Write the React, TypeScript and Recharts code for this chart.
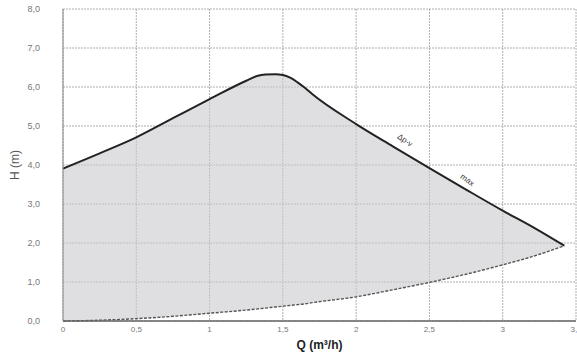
import React from 'react';
import {
  ComposedChart,
  Area,
  Line,
  XAxis,
  YAxis,
  CartesianGrid,
  Label,
  ReferenceDot,
} from 'recharts';

// Flow Q (m³/h)
const flowQ = [0, 0.25, 0.5, 0.75, 1, 1.25, 1.33, 1.38, 1.45, 1.5, 1.55, 1.6, 1.65, 1.7, 2, 2.25, 2.5, 2.75, 3, 3.2, 3.42];
// Max curve (Δp-v max) head H (m)
const headMax = [3.91, 4.3, 4.71, 5.2, 5.69, 6.16, 6.29, 6.32, 6.33, 6.31, 6.24, 6.12, 5.98, 5.82, 5.05, 4.48, 3.92, 3.37, 2.83, 2.42, 1.93];
// Lower (system) curve head H (m)
const headLow = [0, 0.02, 0.06, 0.12, 0.2, 0.28, 0.31, 0.33, 0.36, 0.38, 0.4, 0.42, 0.44, 0.47, 0.62, 0.8, 0.99, 1.2, 1.44, 1.65, 1.93];

const xTicks = [0, 0.5, 1, 1.5, 2, 2.5, 3, 3.5];
const yTicks = [0, 1, 2, 3, 4, 5, 6, 7, 8];

const xLabel = 'Q (m³/h)';
const yLabel = 'H (m)';
const curveLabels = [
  { q: 2.335, h: 4.64, text: 'Δp-v' },
  { q: 2.76, h: 3.62, text: 'max' },
];

const data = flowQ.map((q, i) => ({
  q,
  high: headMax[i],
  low: headLow[i],
  range: [headLow[i], headMax[i]],
}));

const fmtX = (v: number) => String(v).replace('.', ',');
const fmtY = (v: number) => v.toFixed(1).replace('.', ',');

const font = '"Liberation Sans", Arial, sans-serif';

export default function App() {
  return (
    <div style={{ position: 'absolute', left: 0, top: 0, width: 577, height: 352, background: '#fff', fontFamily: font }}>
      <ComposedChart
        width={577}
        height={352}
        data={data}
        margin={{ top: 9, right: 1, left: 0, bottom: 0 }}
      >
        <CartesianGrid stroke="#9a9a9a" strokeDasharray="2 1" strokeWidth={0.8} />
        <XAxis
          type="number"
          dataKey="q"
          domain={[0, 3.5]}
          ticks={xTicks}
          tickFormatter={fmtX}
          allowDataOverflow
          height={31}
          tickLine={false}
          tickSize={0}
          tickMargin={5}
          axisLine={{ stroke: '#666', strokeWidth: 1.5 }}
          tick={{ fontSize: 8, fill: '#777', fontFamily: font }}
          interval={0}
        >
          <Label
            value={xLabel}
            position="insideBottom"
            offset={3}
            style={{ fontSize: 12, fontWeight: 'bold', fill: '#222', fontFamily: font }}
          />
        </XAxis>
        <YAxis
          type="number"
          domain={[0, 8]}
          ticks={yTicks}
          tickFormatter={fmtY}
          width={63}
          tickLine={false}
          tickSize={0}
          tickMargin={23}
          axisLine={{ stroke: '#888', strokeWidth: 1 }}
          tick={{ fontSize: 9, fill: '#777', fontFamily: font }}
          interval={0}
        >
          <Label
            content={(props: any) => {
              const vb = props.viewBox || { x: 0, y: 9, width: 63, height: 312 };
              const cx = 15;
              const cy = vb.y + vb.height / 2;
              return (
                <text
                  x={cx}
                  y={cy}
                  transform={`rotate(-90 ${cx} ${cy})`}
                  textAnchor="middle"
                  dominantBaseline="central"
                  style={{ fontSize: 12, fill: '#555', fontFamily: font }}
                >
                  {yLabel}
                </text>
              );
            }}
          />
        </YAxis>
        <Area
          type="monotone"
          dataKey="range"
          stroke="none"
          fill="#c9c9cf"
          fillOpacity={0.6}
          isAnimationActive={false}
          activeDot={false}
        />
        <Line
          type="monotone"
          dataKey="low"
          stroke="#555"
          strokeWidth={1.4}
          strokeDasharray="3 1.5"
          dot={false}
          isAnimationActive={false}
        />
        <Line
          type="monotone"
          dataKey="high"
          stroke="#222"
          strokeWidth={2}
          dot={false}
          isAnimationActive={false}
        />
        {curveLabels.map((c) => (
          <ReferenceDot
            key={c.text}
            x={c.q}
            y={c.h}
            r={0}
            stroke="none"
            fill="none"
            label={{ value: c.text, angle: 35, position: 'center', fontSize: 8, fill: '#333', fontFamily: font }}
          />
        ))}
      </ComposedChart>
    </div>
  );
}
